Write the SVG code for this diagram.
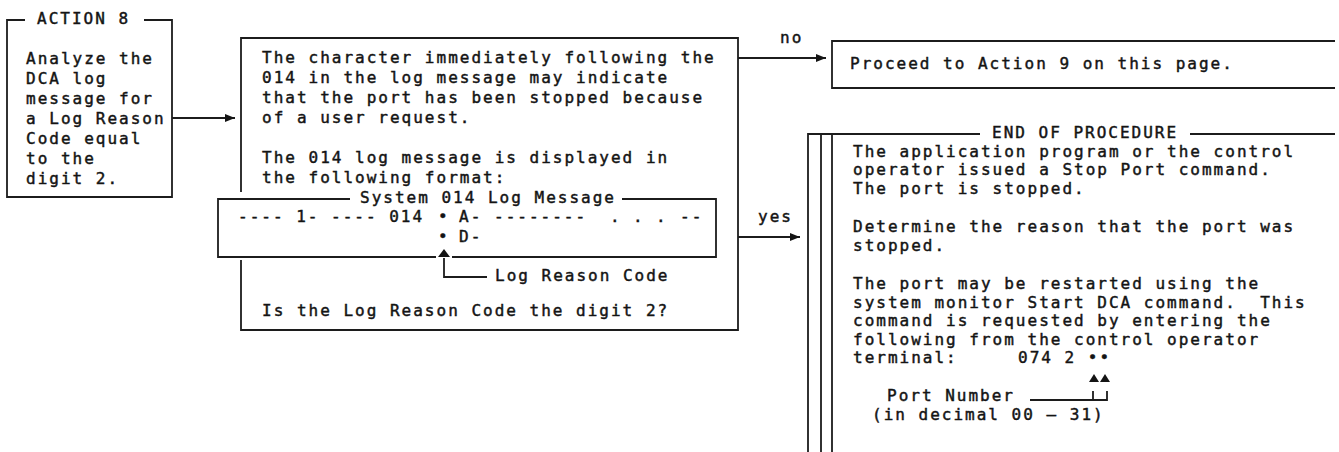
<svg xmlns="http://www.w3.org/2000/svg" width="1339" height="452" viewBox="0 0 1339 452">
<style>
text{font-family:"DejaVu Sans Mono","Liberation Mono",monospace;font-size:16px;letter-spacing:2px;fill:#141414;stroke:#141414;stroke-width:0.45}
.ln{fill:none;stroke:#1c1c1c;stroke-width:1.8}
.pre{white-space:pre}
.tri{fill:#141414}
</style>
<defs>
<marker id="ah" markerUnits="userSpaceOnUse" markerWidth="10" markerHeight="8" refX="10" refY="4" orient="auto">
<path d="M0,0 L10,4 L0,8 z" fill="#141414"/>
</marker>
</defs>
<rect width="1339" height="452" fill="#fff"/>

<g id="action8">
<path class="ln" d="M25,20 H7 V197 H172 V20 H144"/>
<text x="37" y="24">ACTION 8</text>
<text x="26" y="64">Analyze the</text>
<text x="26" y="84">DCA log</text>
<text x="26" y="104">message for</text>
<text x="26" y="124">a Log Reason</text>
<text x="26" y="144">Code equal</text>
<text x="26" y="164">to the</text>
<text x="26" y="184">digit 2.</text>
</g>

<g id="decision">
<path class="ln" d="M241,192 V38 H738 V330 H241 V260"/>
<text x="262" y="63">The character immediately following the</text>
<text x="262" y="83">014 in the log message may indicate</text>
<text x="262" y="103">that the port has been stopped because</text>
<text x="262" y="123">of a user request.</text>
<text x="262" y="163">The 014 log message is displayed in</text>
<text x="262" y="183">the following format:</text>
<text x="262" y="316">Is the Log Reason Code the digit 2?</text>
</g>

<g id="logmessage">
<path class="ln" d="M350,199 H218 V257 H436 M452,257 H716 V199 H622"/>
<text x="360" y="203">System 014 Log Message</text>
<text x="238" y="222">---- 1- ---- 014</text>
<text x="438" y="222">•</text>
<text x="459" y="222">A-</text>
<text x="494" y="222">--------</text>
<text x="610" y="222">.</text>
<text x="633" y="222">.</text>
<text x="656" y="222">.</text>
<text x="680" y="222">--</text>
<text x="438" y="242">•</text>
<text x="459" y="242">D-</text>
<polygon class="tri" points="438,257 444,249 450,257"/>
<path class="ln" d="M444,258 V277 H487"/>
<text x="495" y="281">Log Reason Code</text>
</g>

<g id="proceed">
<path class="ln" d="M1335,41 H832 V88 H1335"/>
<text x="850" y="69">Proceed to Action 9 on this page.</text>
</g>

<g id="endproc">
<path class="ln" d="M808,452 V134 H980 M1190,134 H1335 M821,134 V452 M832,134 V452"/>
<text x="992" y="137.5">END OF PROCEDURE</text>
<text x="853" y="156.5">The application program or the control</text>
<text x="853" y="175">operator issued a Stop Port command.</text>
<text x="853" y="193.5">The port is stopped.</text>
<text x="853" y="232">Determine the reason that the port was</text>
<text x="853" y="251">stopped.</text>
<text x="853" y="289">The port may be restarted using the</text>
<text x="853" y="307.5" class="pre">system monitor Start DCA command.  This</text>
<text x="853" y="326">command is requested by entering the</text>
<text x="853" y="344.5">following from the control operator</text>
<text x="853" y="363">terminal:</text>
<text x="1018" y="363">074 2 ••</text>
<polygon class="tri" points="1089,382 1094,374 1099,382"/>
<polygon class="tri" points="1100,382 1105,374 1110,382"/>
<text x="887" y="400.5">Port Number</text>
<path class="ln" d="M1030,400 H1107 V391 M1093,400 V391"/>
<text x="872" y="419.5">(in decimal 00 – 31)</text>
</g>

<g id="connectors">
<path class="ln" d="M172,118 H235" marker-end="url(#ah)"/>
<path class="ln" d="M738,58 H826" marker-end="url(#ah)"/>
<path class="ln" d="M738,237 H800" marker-end="url(#ah)"/>
<text x="780" y="43">no</text>
<text x="758" y="222">yes</text>
</g>
</svg>
